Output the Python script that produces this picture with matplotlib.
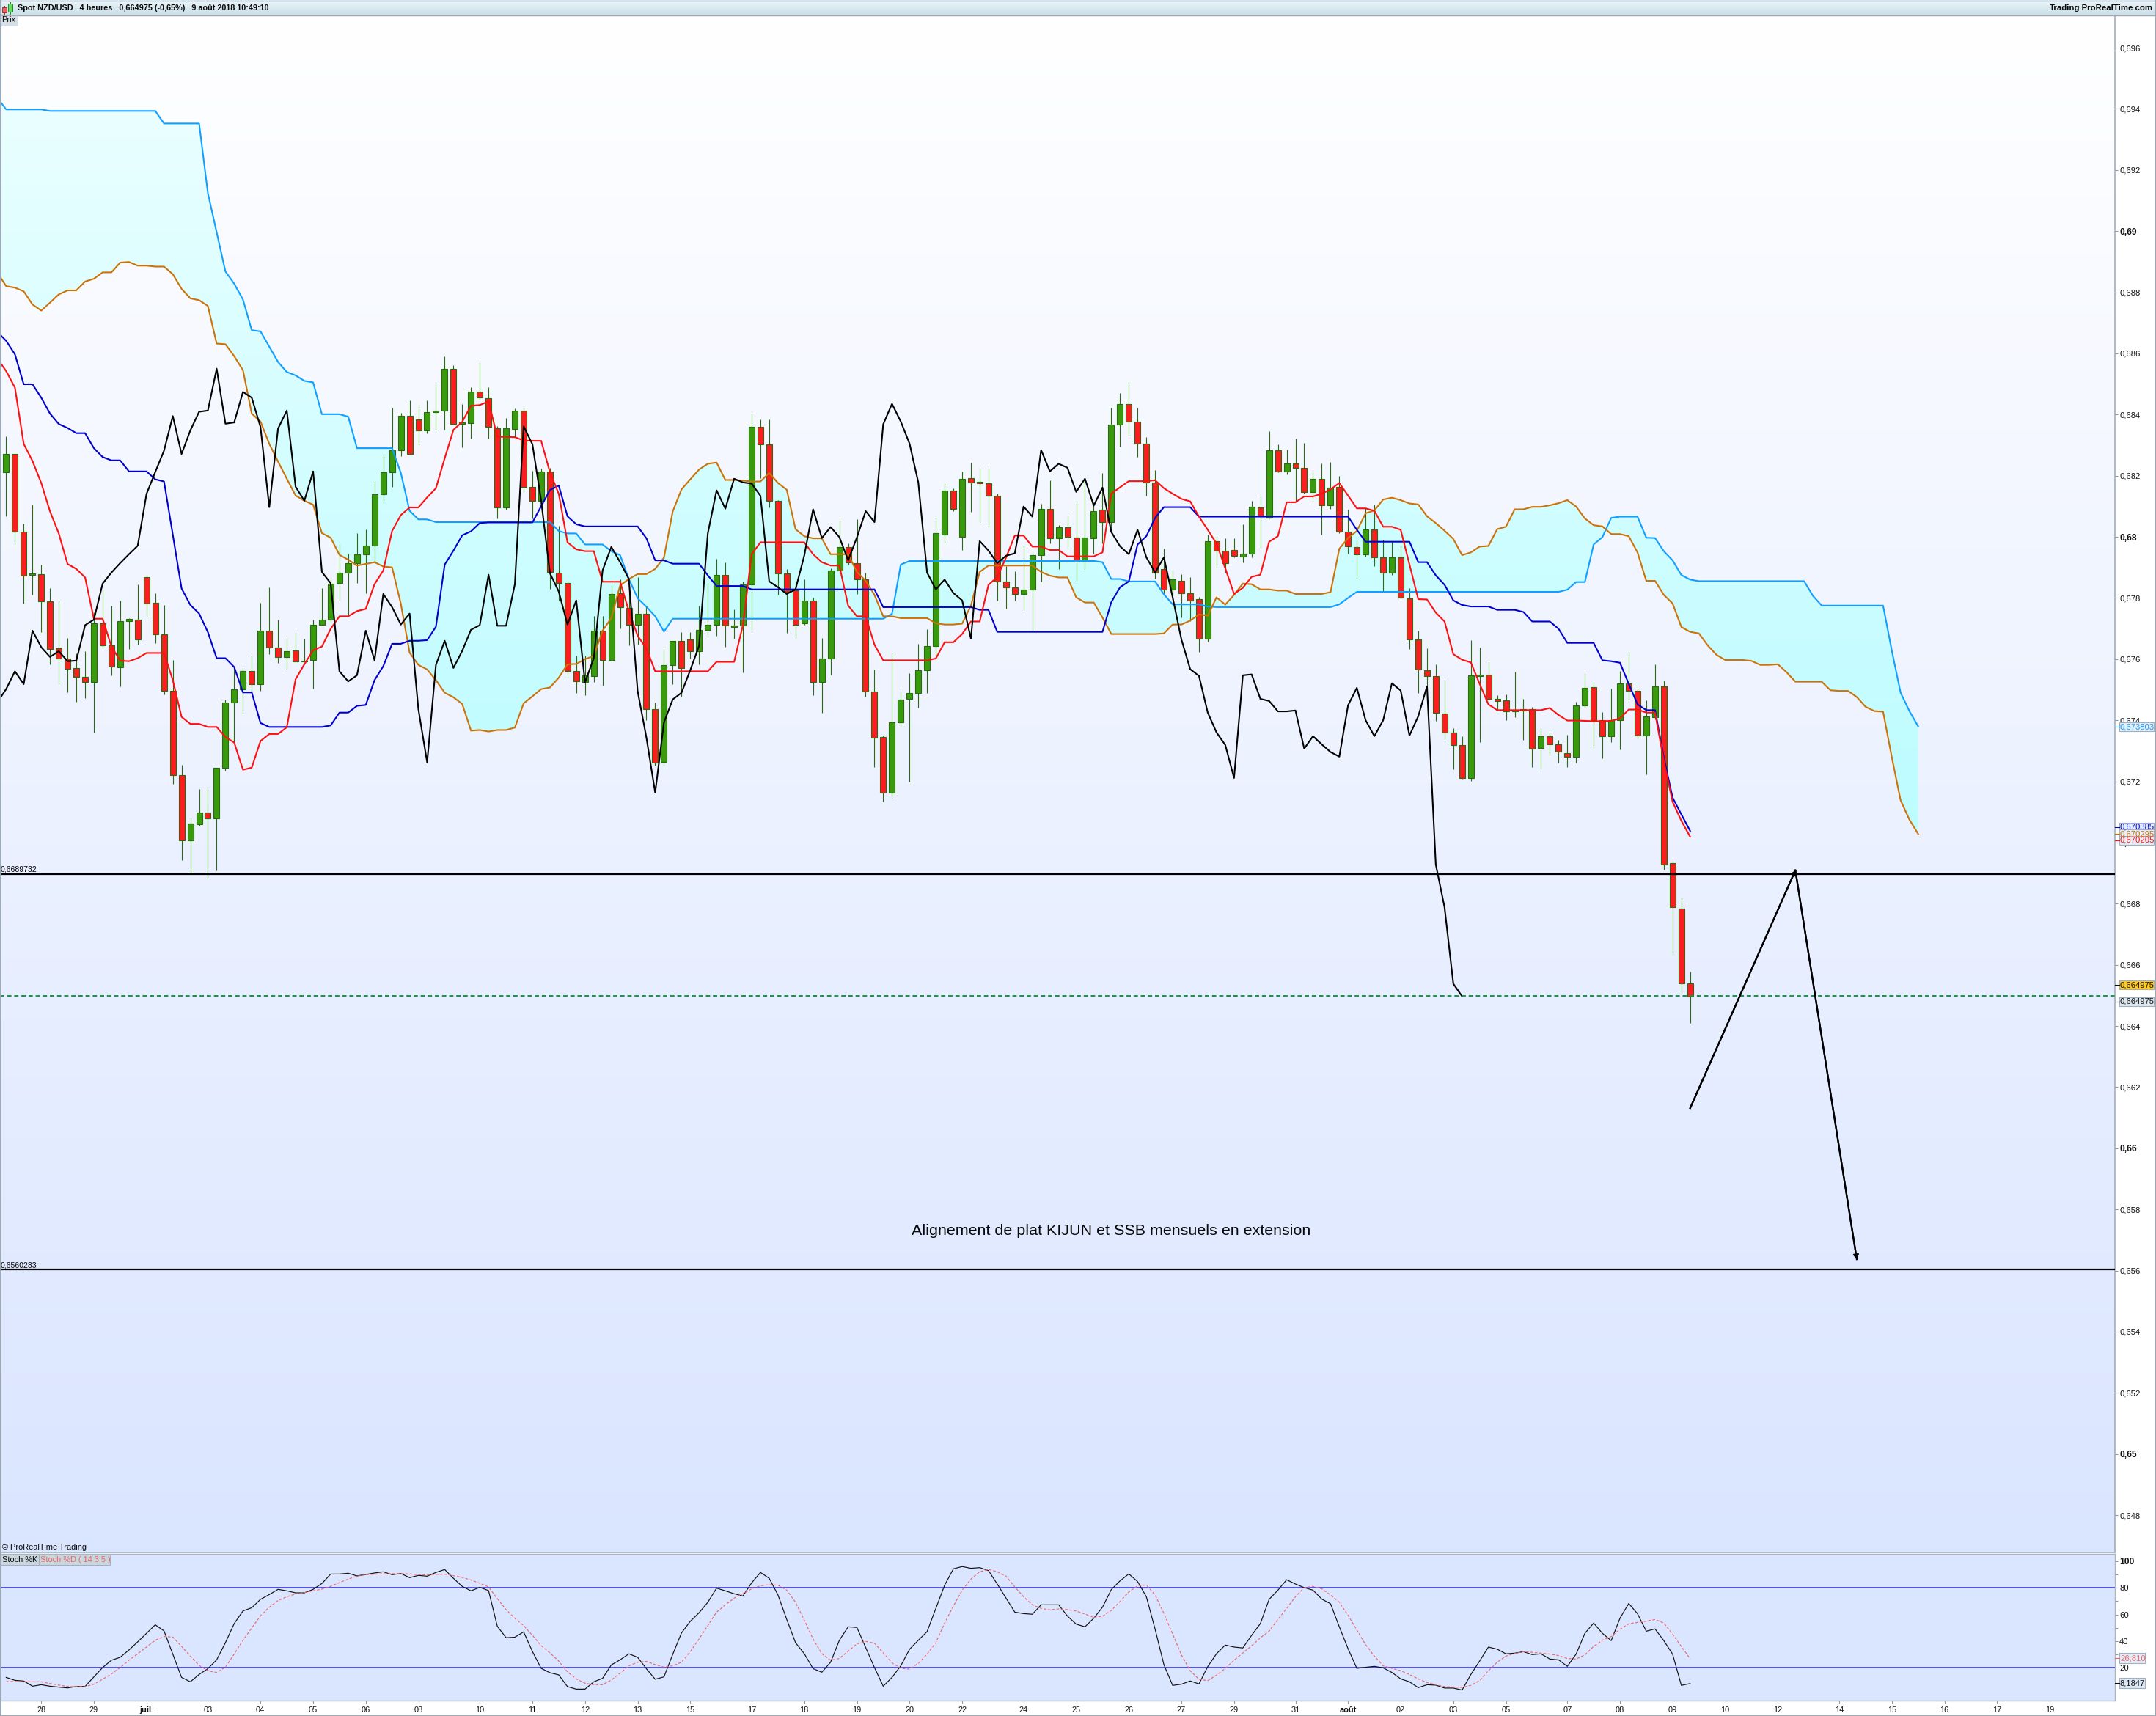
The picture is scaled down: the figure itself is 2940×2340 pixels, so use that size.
import numpy as np
import matplotlib
matplotlib.use("Agg")
import matplotlib.pyplot as plt
from matplotlib.patches import Rectangle
from matplotlib.colors import LinearSegmentedColormap

plt.rcParams['font.family'] = ['Liberation Sans', 'DejaVu Sans']

# ---------- price data, in units of 0.00001 ----------
candle_dir = ("grrgrrrrrr" "grrggrrrrr" "rggrggggrg" "rrgrgggggg" "ggggggrrgg"
              "grggrrrggr" "rgrrrrggrg" "rrgrrggrrg" "ggrgggrrrr" "rgrgggrrrr"
              "rgggggggrg" "rrrrrrgggr" "grrggrggrr" "rrrgrrrgrr" "rggrgrgrrg"
              "rgrrrgrrgr" "rrrrrrrggr" "rrrrrgrrrg" "grrggrrggr" "rrr")
body_top = [
68271,68271,68016,67881,67878,67790,67636,67603,67571,67542,
67718,67718,67646,67723,67732,67730,67869,67783,67682,67497,
67221,67063,67099,67099,67245,67459,67502,67560,67560,67693,
67693,67639,67626,67628,67595,67711,67729,67847,67883,67914,
67943,67971,68140,68212,68282,68395,68397,68384,68409,68413,
68550,68550,68374,68474,68476,68454,68356,68354,68413,68413,
68164,68214,68214,67883,67849,67560,67547,67693,67693,67813,
67816,67768,67749,67749,67436,67581,67660,67660,67664,67696,
67711,67876,67876,67709,67845,68361,68359,68303,68118,67881,
67824,67792,67792,67603,67890,67967,67967,67914,67862,67495,
67346,67393,67468,67490,67564,67643,68011,68152,68152,68190,
68192,68181,68176,68135,67854,67835,67828,67939,68090,68090,
68032,68032,67998,67998,68084,68088,68368,68435,68435,68377,
68305,68178,67895,67860,67856,67816,67795,67986,67986,67955,
67957,67946,68099,68097,68284,68284,68239,68239,68226,68190,
68190,68161,68163,68016,67967,68023,68023,67933,67933,67933,
67799,67664,67564,67545,67423,67360,67319,67547,67550,67549,
67470,67466,67434,67436,67436,67348,67348,67321,67293,67449,
67506,67509,67400,67400,67521,67521,67497,67413,67511,67511,
66932,66785,66538]
body_bottom = [
68212,68016,67874,67876,67790,67634,67603,67569,67542,67524,
67524,67646,67576,67574,67723,67664,67782,67682,67497,67221,
67007,67007,67060,67080,67080,67245,67459,67502,67518,67518,
67639,67607,67607,67593,67592,67596,67711,67729,67849,67883,
67914,67943,67971,68140,68212,68282,68271,68348,68348,68409,
68413,68370,68370,68373,68455,68359,68097,68097,68353,68164,
68118,68118,67885,67848,67560,67527,67525,67545,67596,67598,
67770,67713,67713,67436,67262,67264,67581,67571,67627,67626,
67696,67713,67709,67705,67709,67845,68303,68118,67881,67821,
67713,67716,67524,67524,67603,67890,67917,67862,67495,67343,
67163,67163,67393,67470,67490,67564,67643,68007,68092,68000,
68178,68174,68134,67854,67835,67813,67813,67828,67939,67996,
67996,67999,67923,67923,67996,68048,68048,68368,68377,68305,
68178,67883,67828,67828,67816,67792,67667,67667,67955,67914,
67938,67935,67946,68066,68063,68214,68214,68226,68147,68147,
68102,68102,68016,67969,67943,67943,67933,67883,67883,67802,
67664,67567,67545,67425,67360,67319,67211,67211,67545,67470,
67463,67429,67429,67432,67307,67310,67321,67296,67281,67281,
67449,67400,67348,67348,67400,67497,67350,67350,67411,66928,
66788,66538,66497]
highs = [
68328,68271,68043,68105,67909,67833,67792,67668,67618,67626,
67752,67827,67775,67792,67734,67845,67876,67816,67778,67598,
67255,67081,67176,67183,67245,67467,67571,67571,67612,67785,
67835,67729,67670,67688,67667,67728,67831,67862,67975,67946,
68011,68023,68182,68272,68422,68406,68446,68426,68446,68499,
68590,68562,68434,68490,68571,68490,68362,68388,68420,68422,
68217,68223,68225,68036,67856,67612,67612,67742,67742,67841,
67862,67839,67868,67775,67457,67633,67660,67688,67688,67775,
67850,67929,67917,67763,67853,68404,68385,68385,68121,67895,
67856,67860,67800,67670,67897,68052,67978,68057,67883,67566,
67350,67620,67496,67554,67650,67697,68063,68176,68159,68213,
68243,68225,68226,68141,67903,67888,67971,67950,68109,68185,
68039,68069,68118,68188,68112,68209,68422,68469,68507,68422,
68327,68219,67961,67891,67877,67868,67804,68007,68002,67996,
67996,68040,68118,68132,68345,68302,68285,68321,68306,68211,
68240,68245,68198,68089,67988,68095,68105,67990,67983,67972,
67831,67693,67635,67582,67532,67374,67347,67661,67639,67591,
67482,67484,67559,67469,67443,67374,67359,67335,67353,67461,
67553,67525,67426,67504,67562,67624,67507,67464,67583,67529,
66939,66821,66577]
lows = [
68066,67977,67782,67810,67688,67583,67518,67492,67461,67473,
67360,67635,67546,67511,67633,67647,67742,67653,67484,67191,
66943,66897,67054,66879,66909,67234,67327,67423,67490,67496,
67616,67588,67569,67590,67592,67504,67717,67717,67792,67746,
67850,67816,67918,68110,68163,68264,68269,68300,68339,68350,
68350,68368,68292,68321,68449,68321,68060,68089,68327,68147,
68060,68112,67829,67792,67539,67490,67481,67524,67513,67595,
67699,67646,67647,67400,67252,67252,67518,67478,67603,67582,
67672,67676,67641,67667,67557,67696,68193,68095,67810,67685,
67669,67711,67482,67424,67550,67885,67909,67813,67478,67246,
67133,67147,67382,67199,67441,67490,67612,67982,68083,67957,
68081,68047,68031,67792,67766,67792,67761,67690,67854,67978,
67895,67959,67856,67895,67946,67978,68019,68296,68331,68261,
68135,67864,67810,67792,67736,67725,67624,67656,67900,67882,
67932,67917,67932,67964,68060,68211,68205,68116,68141,68114,
68007,68091,68013,67946,67864,67935,67903,67819,67876,67798,
67633,67488,67510,67397,67339,67239,67209,67202,67329,67467,
67432,67400,67411,67335,67246,67240,67286,67260,67246,67260,
67441,67310,67276,67329,67304,67467,67341,67223,67403,66911,
66633,66511,66410]

# values start one bar before the first candle
kijun = [
68670,68641,68597,68499,68499,68455,68403,68369,68356,68339,68339,
68290,68261,68250,68250,68214,68214,68214,68188,68181,68007,
67831,67777,67749,67688,67603,67603,67574,67491,67491,67391,
67378,67378,67378,67378,67378,67378,67378,67383,67425,67425,
67447,67450,67531,67577,67650,67650,67660,67660,67662,67706,
67909,67955,68005,68018,68045,68047,68047,68047,68047,68047,68047,
68100,68153,68168,68067,68041,
68034,68034,68034,68034,68034,68034,68034,67995,67923,67923,
67912,67912,67912,67912,67874,67839,67839,67839,67839,
67828,67828,67828,67828,67828,67828,67828,67828,67828,67828,67828,67828,67828,67828,67828,
67770,67770,67770,67770,67770,67770,67770,67770,67770,67770,67770,
67761,67761,
67689,67689,67689,67689,67689,67689,67689,67689,67689,67689,67689,67689,67689,
67786,67835,67854,67975,68002,68062,68097,68097,68097,68097,
68066,68066,68066,68066,68066,68066,68066,68066,68066,68066,68066,68066,68066,68066,68066,68066,68066,68066,
68023,67984,67984,67984,67984,67984,67984,67917,67917,67874,67843,67792,67777,
67772,67772,67772,67761,67761,67761,67754,67723,67723,67723,67699,
67653,67653,67653,67653,67596,67593,67588,67519,67452,67433,67433,
67278,67147,67092,67038]
tenkan = [
68583,68542,68488,68304,68248,68176,68083,68011,67911,67895,67867,
67732,67732,67641,67595,67593,67603,67620,67620,67620,67531,
67411,67388,67388,67378,67378,67345,67327,67238,67245,67332,
67355,67355,67377,67534,67583,67629,67641,67699,67740,67740,
67757,67764,67845,67890,68019,68071,68096,68096,68129,68159,
68257,68350,68376,68429,68431,68443,68327,68327,68326,68315,
68314,68314,68211,68141,67982,67959,67953,67953,67853,67853,67853,
67757,67676,67635,67560,67560,67560,67560,67560,67560,67560,
67591,67591,67591,67711,67943,67982,67982,67982,67982,67982,67982,
67943,67917,67906,67906,67775,67740,67740,67647,
67596,67596,67596,67596,67596,67596,67602,67655,67655,67682,
67723,67723,67843,67868,67932,68004,68004,67968,67968,67957,67957,
67936,67936,67936,67936,67949,68141,68162,68182,68182,68182,68185,
68159,68141,68124,68116,68066,68023,67978,67897,67813,67833,
67869,67876,67984,68002,68113,68113,68132,68132,68141,68155,
68176,68135,68093,68093,68085,68033,68033,68023,67909,67796,
67795,67752,67723,67616,67598,67589,67519,67452,
67433,67433,67433,67433,67433,67433,67440,67417,67399,67399,
67398,67397,67397,67398,67406,67435,67435,67425,67425,
67267,67133,67071,67019]
senkou_orange = [
68864,68820,68815,68803,68760,68740,68766,68793,68806,68806,68835,
68844,68865,68865,68897,68899,68887,68887,68884,68884,68859,
68811,68780,68774,68755,68632,68630,68591,68545,68403,68377,
68304,68246,68190,68135,68118,68105,68012,67997,67941,67925,
67906,67911,67917,67903,67900,67781,67621,67581,67566,67531,
67490,67475,67453,67366,67368,67363,67368,67368,67376,67455,
67478,67502,67507,67539,67583,67584,67600,67610,67693,67734,
67841,67862,67878,67878,67895,67932,68083,68155,68188,68220,
68239,68243,68186,68186,68184,68181,68181,68209,68176,68154,
68025,68002,67995,67995,67943,67943,67943,67885,67856,67810,
67740,67740,67734,67734,67734,67734,67717,67713,67713,67716,
67775,67885,67906,67906,67906,67906,67906,67906,67885,67873,
67867,67867,67802,67785,67785,67736,67682,67682,67682,67682,67682,67682,
67684,67713,67713,67726,67746,67742,67802,67778,67810,67847,
67845,67828,67828,67824,67824,67813,67813,67813,67813,67819,
67961,67996,68019,68077,68086,68122,68128,68120,68109,68106,
68067,68045,68020,67993,67940,67949,67968,67970,68025,68033,
68090,68090,68098,68098,68103,68110,68120,68099,68060,68038,
68034,68009,68009,68002,67949,67856,67856,67810,67782,67705,
67689,67684,67645,67614,67597,67597,67597,67594,67581,67581,
67583,67557,67526,67526,67526,67526,67498,67496,67496,67476,
67444,67430,67428,67278,67138,67075,67028]
senkou_blue = [
69436,69398,69398,69398,69398,69398,
69393,69393,69393,69393,69393,69393,69393,69393,69393,69393,69393,69393,69393,
69352,69352,69352,69352,69352,69124,68996,68868,68828,68776,68676,68672,
68622,68572,68539,68528,68510,68505,68401,68401,68401,68393,
68290,68290,68290,68290,68290,68209,68085,68057,68057,
68048,68048,68048,68048,68048,68048,68048,68048,68048,68048,68048,68048,68048,68048,
68019,68011,68011,67975,67975,67975,67953,67940,67862,67799,67771,67740,67690,
67732,67732,67732,67732,67732,67732,67732,67732,67732,67732,67732,67732,67732,
67732,67732,67732,67732,67732,67732,67732,67732,67732,67732,67732,67732,
67748,67909,
67921,67921,67921,67921,67921,67921,67921,67921,67921,67921,67921,
67921,67921,67921,67921,67921,67921,67921,67921,67921,67921,67921,
67917,67862,67862,67854,67854,67854,67854,67812,67779,67779,67779,67779,67772,
67770,67770,67770,67770,67770,67770,67770,67770,67770,67770,67770,67770,67770,67770,
67779,67800,
67820,67820,67820,67820,67820,67820,67820,67820,67820,67820,67820,67820,
67820,67820,67820,67820,67820,67820,67820,67820,67820,67820,67820,67820,
67827,67852,67852,67975,67999,68062,68066,68066,68066,67997,67996,67953,67923,
67875,67860,
67855,67855,67855,67855,67855,67855,67855,67855,67855,67855,67855,67855,67855,
67807,
67775,67775,67775,67775,67775,67775,67775,67775,
67627,67490,67430,67380]

stoch_k = [
12.8,10.6,10.1,6.2,7.3,6.2,5.5,4.9,6.0,6.0,
13.2,20.2,25.7,27.9,33.4,39.5,45.9,52.3,47.7,30.3,
12.8,9.5,15.0,19.4,26.0,38.9,53.2,62.7,65.1,71.4,
75.0,78.9,77.8,76.3,76.3,78.9,83.3,90.4,90.4,91.0,
89.0,90.1,91.2,92.1,89.9,90.8,87.7,89.4,88.8,91.6,
93.8,87.2,81.1,77.8,80.4,78.0,51.2,42.6,43.0,47.0,
32.3,19.6,16.3,14.7,5.9,4.0,4.0,9.5,12.1,22.2,
26.0,30.5,27.9,19.3,11.4,13.2,30.1,46.2,54.9,61.3,
69.2,79.8,77.8,75.6,73.9,83.8,91.6,87.2,74.7,56.3,
38.9,30.6,19.4,16.7,24.2,40.7,50.8,50.3,35.2,20.2,
6.2,12.8,21.5,33.9,40.7,47.2,64.6,82.0,94.3,96.0,
94.7,95.2,93.0,82.9,72.3,61.8,60.7,60.2,67.3,67.3,
67.3,58.9,52.8,50.8,57.2,65.5,78.7,85.3,90.5,84.8,
73.4,49.0,22.4,6.8,7.7,10.1,7.9,20.9,30.6,37.1,
35.6,34.9,44.4,53.2,71.4,78.3,86.1,82.9,80.2,78.3,
71.6,68.1,50.8,34.3,19.6,20.4,21.1,20.0,16.5,11.7,
9.5,5.1,7.3,7.0,4.8,4.8,3.3,15.0,25.1,35.6,
34.0,30.5,31.0,32.1,29.9,30.5,26.6,26.0,21.1,30.3,
45.9,53.6,45.9,40.4,57.2,68.3,60.6,47.5,49.2,40.4,
30.3,6.8,8.18]
stoch_d = [
9.7,9.7,9.5,9.5,9.5,8.2,7.0,6.0,5.9,5.9,
7.7,11.4,15.4,20.2,25.7,30.6,35.6,40.7,43.5,43.1,
36.1,28.8,21.8,17.8,16.5,20.5,30.3,40.7,49.9,59.1,
65.5,70.5,73.4,75.4,76.5,77.8,79.1,81.1,84.0,86.6,
88.8,89.9,90.3,90.6,90.6,90.8,90.5,89.9,89.7,90.1,
90.3,89.2,87.9,85.9,83.5,80.7,71.9,63.7,57.2,51.7,
44.4,36.7,31.2,25.1,16.9,11.7,8.4,7.3,7.3,10.8,
16.0,21.5,24.2,24.8,22.4,20.5,21.5,24.2,32.1,41.6,
51.7,61.8,67.3,72.3,75.6,79.3,81.6,82.4,82.0,78.3,
69.2,55.8,41.6,30.6,25.7,27.0,32.5,38.0,39.8,38.5,
31.2,23.8,19.6,19.1,23.3,30.3,38.9,53.6,66.4,78.3,
86.6,92.1,93.9,92.1,88.8,80.7,73.4,67.3,64.6,63.5,
64.2,63.7,62.7,60.4,57.8,58.7,63.1,69.7,76.9,81.5,
82.2,74.7,60.9,45.3,29.7,17.8,11.4,10.4,14.5,19.6,
25.7,31.2,36.5,42.6,47.5,56.3,64.6,73.4,80.2,81.1,
79.3,74.7,69.2,59.4,48.4,37.4,28.8,21.5,19.6,17.8,
15.0,11.7,9.0,7.3,5.9,5.5,5.3,6.8,10.4,17.8,
24.2,28.8,30.8,32.1,31.6,31.0,30.3,29.2,27.0,26.6,
29.7,36.1,40.7,43.5,49.0,53.0,54.1,55.0,56.3,53.6,
45.3,36.1,26.81]

level_upper = 0.6689732
level_lower = 0.6560283
last_price = 0.664975
drawn_bars = [192, 204, 211]
drawn_prices = [0.66131, 0.66909, 0.65637]

price_ticks = [0.696,0.694,0.692,0.69,0.688,0.686,0.684,0.682,0.68,0.678,0.676,0.674,0.672,
               0.67,0.668,0.666,0.664,0.662,0.66,0.658,0.656,0.654,0.652,0.65,0.648]
price_labels = ['0,696','0,694','0,692','0,69','0,688','0,686','0,684','0,682','0,68','0,678','0,676','0,674','0,672',
                '0,67','0,668','0,666','0,664','0,662','0,66','0,658','0,656','0,654','0,652','0,65','0,648']
bold_prices = ['0,69','0,68','0,67','0,66','0,65']
date_bars = [4,10,16,23,29,35,41,47,54,60,66,72,78,85,91,97,103,109,116,122,128,134,140,147,153,159,165,
             171,178,184,190,196,202,209,215,221,227,233]
date_labels = ['28','29','juil.','03','04','05','06','08','10','11','12','13','15','17','18','19','20','22','24','25','26','27','29','31','août','02','03',
               '05','07','08','09','10','12','14','15','16','17','19']
stoch_ticks = [100,80,60,40,20]
stoch_minor = [90,70,50,30]

# ---------- layout (figure pixels) ----------
W, H = 2940, 2340
AX_R = 2884
M_T, M_B = 21, 2117
S_T, S_B = 2119, 2319
BAR0, BAR_W = 8.4, 11.96
PX_TOP, PX_SCALE = 65.0, 41688.0     # 0.696 at y=65
def ax_rect(l, t, r, b):
    return [l/W, 1-b/H, (r-l)/W, (b-t)/H]

fig = plt.figure(figsize=(W/100, H/100), dpi=100, facecolor='white')
fs = lambda p: p*0.72

bg = fig.add_axes(ax_rect(0, M_T, AX_R, M_B), zorder=0)
bg.imshow(np.linspace(0, 1, 256).reshape(-1, 1), aspect='auto',
          cmap=LinearSegmentedColormap.from_list('bg', ['#FFFFFF', '#DAE5FF']), vmin=0, vmax=1)
bg.axis('off')

ax = fig.add_axes(ax_rect(0, M_T, AX_R, M_B), zorder=1)
ax.patch.set_visible(False)
ax.set_xlim((0-BAR0)/BAR_W, (AX_R-BAR0)/BAR_W)
ax.set_ylim(0.696-(M_B-PX_TOP)/PX_SCALE, 0.696+(PX_TOP-M_T)/PX_SCALE)

n = len(body_top)
bars = np.arange(n)
top = np.array(body_top)/1e5
bot = np.array(body_bottom)/1e5
hi = np.array(highs)/1e5
lo = np.array(lows)/1e5
is_up = np.array([c == 'g' for c in candle_dir])
closes = np.where(is_up, top, bot)

ks = np.array(kijun)/1e5
ts = np.array(tenkan)/1e5
sa = np.array(senkou_orange)/1e5
sb = np.array(senkou_blue)/1e5
x_lines = np.arange(-1, n)
x_cloud = np.arange(-1, len(sa)-1)
chikou = closes[25:]
x_chikou = np.arange(-1, len(chikou)-1)

# cloud with vertical gradient
poly = ax.fill_between(x_cloud, sa, sb, facecolor='none', edgecolor='none', zorder=1)
ylim = ax.get_ylim(); xlim = ax.get_xlim()
cloud_cmap = LinearSegmentedColormap.from_list('cl', ['#ECFFFF', '#BBFCFF'])
yt = 0.696+(PX_TOP-100)/PX_SCALE; yb = 0.696-(1150-PX_TOP)/PX_SCALE
im = ax.imshow(np.linspace(0, 1, 256).reshape(-1, 1), aspect='auto', cmap=cloud_cmap,
               extent=[xlim[0], xlim[1], yb, yt], zorder=1.1)
im.set_clip_path(poly.get_paths()[0], transform=ax.transData)
ax.set_xlim(xlim); ax.set_ylim(ylim)

# candles
EDGE = '#2A6B10'
ax.vlines(bars, lo, hi, color=EDGE, lw=0.8, zorder=2)
ax.bar(bars, top-bot, bottom=bot, width=8/BAR_W,
       color=np.where(is_up, '#389A0C', '#FB1D1F'), edgecolor=EDGE, linewidth=0.8, zorder=2.1)

lw = 1.5
ax.plot(x_cloud, sb, color='#109FFF', lw=lw, zorder=3, solid_joinstyle='round')
ax.plot(x_cloud, sa, color='#CC7206', lw=lw, zorder=3, solid_joinstyle='round')
ax.plot(x_lines, ks, color='#0000CC', lw=lw, zorder=3.1)
ax.plot(x_lines, ts, color='#FF1010', lw=lw, zorder=3.2)
ax.plot(x_chikou, chikou, color='#000000', lw=lw, zorder=3.3)

ax.axhline(level_upper, color='black', lw=1.6, zorder=4)
ax.axhline(level_lower, color='black', lw=1.6, zorder=4)
ax.axhline(last_price, color='#0A9B3C', lw=1.4, ls=(0, (3, 2)), zorder=4)

# hand-drawn trend with arrows
ax.plot(drawn_bars[:2], drawn_prices[:2], color='black', lw=1.7, zorder=5)
ax.plot(drawn_bars[1:], drawn_prices[1:], color='black', lw=1.7, zorder=5)
ax.annotate('', xy=(drawn_bars[1], drawn_prices[1]), xytext=(drawn_bars[0], drawn_prices[0]), zorder=5,
            arrowprops=dict(arrowstyle='-|>,head_length=0.35,head_width=0.22', color='black', lw=1.5, shrinkA=0, shrinkB=0))
ax.annotate('', xy=(drawn_bars[2], drawn_prices[2]), xytext=(drawn_bars[1], drawn_prices[1]), zorder=5,
            arrowprops=dict(arrowstyle='-|>,head_length=0.35,head_width=0.22', color='black', lw=1.5, shrinkA=0, shrinkB=0))

# right price axis
for s in ['top', 'left', 'bottom']:
    ax.spines[s].set_visible(False)
ax.spines['right'].set_color('#9AA8B5'); ax.spines['right'].set_linewidth(1.1)
ax.set_xticks([])
ax.yaxis.tick_right()
ax.set_yticks(price_ticks)
ax.set_yticklabels(price_labels, fontsize=fs(11.2), color='#111111')
ax.tick_params(axis='y', length=3, width=0.8, color='#8F9DAA', pad=1.5)
for lab in ax.get_yticklabels():
    if lab.get_text() in bold_prices:
        lab.set_fontweight('bold')
        lab.set_fontsize(fs(12))

# stochastic panel
ax2 = fig.add_axes(ax_rect(0, S_T, AX_R, S_B), zorder=1, facecolor='#DAE5FF')
ax2.set_xlim(ax.get_xlim())
unit = 5.45/3
ax2.set_ylim(80-(S_B-2165.3)/unit, 80+(2165.3-S_T)/unit)
ax2.axhline(80, color='#2A2AD8', lw=1.1)
ax2.axhline(20, color='#2A2AD8', lw=1.1)
ax2.plot(bars, stoch_k, color='#111111', lw=0.85, zorder=3)
ax2.plot(bars, stoch_d, color='#EE6A6A', lw=0.85, ls=(0, (3, 2)), zorder=4)
ax2.spines['left'].set_visible(False)
for s in ['right', 'bottom', 'top']:
    ax2.spines[s].set_color('#A8B4C0'); ax2.spines[s].set_linewidth(1.0)
ax2.yaxis.tick_right()
ax2.set_yticks(stoch_ticks)
ax2.set_yticklabels([str(v) for v in stoch_ticks], fontsize=fs(11.2), color='#111111')
ax2.set_yticks(stoch_minor, minor=True)
ax2.tick_params(axis='y', which='both', length=3, width=0.8, color='#8F9DAA', pad=1.5)
ax2.get_yticklabels()[0].set_fontweight('bold')
ax2.get_yticklabels()[0].set_fontsize(fs(12))
ax2.set_xticks(date_bars)
ax2.set_xticklabels(date_labels, fontsize=fs(11), color='#111111')
ax2.tick_params(axis='x', length=3, width=0.8, color='#8F9DAA', pad=2.5)
for lab in ax2.get_xticklabels():
    if lab.get_text() in ('juil.', 'août'):
        lab.set_fontweight('bold')

# overlay: chrome and text in pixel coordinates
ov = fig.add_axes([0, 0, 1, 1], zorder=5)
ov.set_xlim(0, W); ov.set_ylim(H, 0); ov.axis('off'); ov.patch.set_visible(False)
ov.imshow(np.linspace(0, 1, 32).reshape(-1, 1), aspect='auto', extent=[0, W, 20.5, 0.5],
          cmap=LinearSegmentedColormap.from_list('hd', ['#EAF5F9', '#CBE0E8']), origin='upper', zorder=1)
ov.set_xlim(0, W); ov.set_ylim(H, 0)
ov.plot([0, W], [0.5, 0.5], color='#9AA8B5', lw=1.0, zorder=2)
ov.plot([0, W], [20.5, 20.5], color='#9AA8B5', lw=1.0, zorder=2)
ov.plot([0, AX_R], [M_B-0.5, M_B-0.5], color='#9AA8B5', lw=1.1, zorder=2)
ov.plot([0.5, 0.5], [0, S_B+20], color='#9AA8B5', lw=1.4, zorder=2)
ov.plot([0, W], [2339, 2339], color='#9AA8B5', lw=1.0, zorder=2)
ov.plot([W-0.5, W-0.5], [0, H], color='#9AA8B5', lw=1.0, zorder=2)
# icon
ov.plot([6.5, 6.5], [8, 19], color='#A33333', lw=0.7, zorder=2)
ov.add_patch(Rectangle((3.5, 10), 6, 7, fc='#E86060', ec='#A33333', lw=0.7, zorder=3))
ov.plot([14.5, 14.5], [3, 19], color='#228822', lw=0.7, zorder=2)
ov.add_patch(Rectangle((11.5, 5), 6, 11, fc='#66DD66', ec='#228822', lw=0.7, zorder=3))
tkw = dict(va='center', color='#0A0A0A', zorder=6)
ov.text(24, 11, 'Spot NZD/USD   4 heures   0,664975 (-0,65%)   9 août 2018 10:49:10',
        fontsize=fs(10.9), fontweight='bold', ha='left', **tkw)
ov.text(2936, 11, 'Trading.ProRealTime.com', fontsize=fs(11.4), fontweight='bold', ha='right', **tkw)
ov.add_patch(Rectangle((1, 21), 23, 13.5, fc='#D6DFE6', ec='#A3AFBA', lw=0.7, zorder=5))
ov.text(2.5, 27.5, 'Prix', fontsize=fs(11), ha='left', **tkw)
ov.text(1, 1186, '0,6689732', fontsize=fs(10.5), ha='left', **tkw)
ov.text(1, 1726, '0,6560283', fontsize=fs(10.5), ha='left', **tkw)
ov.text(1515, 1678, 'Alignement de plat KIJUN et SSB mensuels en extension', fontsize=fs(21.5),
        ha='center', **tkw)
ov.text(3, 2110, '© ProRealTime Trading', fontsize=fs(11), ha='left', **tkw)
ov.add_patch(Rectangle((1, 2120), 52.5, 13.5, fc='#C9D6DD', ec='#A3AFBA', lw=0.7, zorder=5))
ov.add_patch(Rectangle((53.5, 2120), 97, 13.5, fc='#C9D6DD', ec='#A3AFBA', lw=0.7, zorder=5))
ov.text(3, 2126.5, 'Stoch %K', fontsize=fs(11), ha='left', **tkw)
ov.text(55.5, 2126.5, 'Stoch %D ( 14 3 5 )', fontsize=fs(11), ha='left', va='center', color='#EE6666', zorder=6)

def tag(y, label, color, face, edge='#9FB0C0', x0=2890, x1=2937, h=12.5):
    ov.add_patch(Rectangle((x0, y-h/2), x1-x0, h, fc=face, ec=edge, lw=0.8, zorder=7))
    ov.text(x0+1, y, label, color=color, fontsize=fs(11.2), va='center', ha='left', zorder=8)
    ov.plot([AX_R, x0], [y, y], color=color, lw=0.8, zorder=7)

tag(991, '0,673803', '#1A9BFF', '#E3EEF8')
tag(1128, '0,670385', '#0000CC', '#E3EEF8')
tag(1137, '0,670295', '#CC7206', '#E3EEF8')
tag(1146, '0,670205', '#FF1010', '#E3EEF8')
tag(1343, '0,664975', '#111111', '#FFC91E')
tag(1366, '0,664975', '#111111', '#DDE6EF')
tag(2261, '26,810', '#EE6666', '#E3EEF8', x1=2925, h=14)
tag(2295, '8,1847', '#111111', '#DDE8F5', x1=2925, h=14)

fig.savefig('out.png', dpi=100, facecolor='white')
